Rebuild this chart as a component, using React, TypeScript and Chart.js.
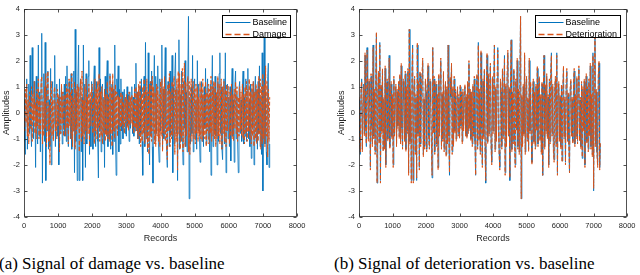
import React, { useEffect, useRef } from "react";
import { Chart, registerables } from "chart.js";

Chart.register(...registerables);

// ---- data ----
const RECORD_STEP = 20; // spacing of the sampled records
const xTickValues = [0, 1000, 2000, 3000, 4000, 5000, 6000, 7000, 8000];
const yTickValues = [-4, -3, -2, -1, 0, 1, 2, 3, 4];

const baseline = [
  0.5, -1.1, -1.6, 0.9, 1.3, -1.4, 0.4, 1.1, -0.8, 2.2, -0.6, -1.3, 2.5, 0.7, -1.0, 1.2, 0.3, -2.1, 1.4, -0.5,
  -1.2, 2.6, -0.9, 0.8, -1.5, 1.3, 3.05, -2.7, 0.6, 1.5, -1.1, 2.7, -2.6, 1.0, -0.7, 1.6, -1.4, 0.5, -1.3, 1.7,
  -2.0, 0.9, 1.2, -1.0, -0.4, 2.2, -1.3, 0.7, 1.1, -0.9, 0.6, -2.0, 1.3, -0.8, 0.4, 1.0, -1.2, 0.8, -0.5, 1.1,
  -0.9, 1.4, -1.1, 1.8, -0.6, -1.3, 1.2, 0.5, -1.0, 1.5, -1.4, 0.9, -0.7, 1.6, -2.3, 3.2, -1.1, 0.8, -2.6, 1.4,
  2.6, -2.6, 0.9, 1.3, -1.5, 0.6, -2.6, 2.6, -0.8, 1.1, -2.1, 1.5, -1.2, 0.7, 1.4, 2.0, -1.6, 0.5, -1.3, 1.2,
  0.8, -1.4, 1.1, 1.8, -0.9, -1.3, 1.2, 0.4, -1.1, -2.5, 2.5, -0.7, 1.3, -1.5, 0.9, 1.1, -1.2, 0.6, -2.1, 1.4,
  -0.8, 1.2, 2.0, -1.3, 0.7, -1.0, 1.5, -1.4, 0.5, 1.1, -1.6, 0.9, -1.1, 2.6, -0.9, -2.4, 1.3, 0.6, 1.8, -1.5,
  0.9, -1.2, 1.3, -0.7, 0.8, -1.0, 0.5, 0.9, -0.8, 0.6, -0.9, 1.0, -0.5, 0.7, -1.1, 0.8, -0.6, 0.4, 1.0, -0.8,
  0.6, -0.9, 1.1, -0.7, 1.9, -0.5, 0.8, -1.0, 0.7, -1.2, 1.0, -0.8, 1.3, -1.1, -2.4, 0.9, 1.4, -1.3, 2.7, -1.0,
  0.8, -1.5, 2.3, -0.6, -2.0, 1.2, -0.9, 1.6, -1.3, -2.7, 0.7, 2.2, -1.1, 1.4, -0.8, 1.0, 1.8, -1.2, -1.9, 1.3,
  -0.7, 1.1, 2.6, -1.4, 0.9, -1.0, 1.3, 2.5, -0.6, -1.5, -2.1, 1.2, 0.8, -1.3, 1.6, -0.9, 0.5, 2.2, -2.3, 1.0,
  -1.2, 1.5, 2.3, -0.8, 0.9, -2.6, 1.1, 2.8, -1.4, 0.7, -1.1, 1.6, -0.9, -2.0, 1.2, -0.6, 2.0, -1.3, 0.8, -1.5,
  1.4, 3.7, -3.3, 0.6, -1.2, 1.0, -0.8, 2.2, -1.5, 0.9, 1.3, -1.0, 0.5, -1.4, 2.0, -0.7, 1.1, -0.9, -1.9, 0.8,
  1.2, -1.1, 0.7, -1.3, 1.0, -0.6, 1.7, -1.2, 0.9, 1.3, -1.0, 0.6, -1.5, 1.1, -2.4, 0.8, 2.2, -1.3, 1.0, -0.7,
  1.4, -0.9, 0.6, -2.0, 1.2, -1.1, 1.5, 2.3, -0.8, 1.0, -1.4, -1.8, 0.9, 1.3, -1.2, 2.3, -2.3, 0.7, 1.1, -1.0,
  0.6, -1.3, 1.0, -1.85, 0.8, 1.7, -0.9, 0.5, -1.9, 1.1, 1.6, -1.0, 0.7, -1.2, -2.3, 0.9, 1.2, -0.8, 0.5, -1.1,
  1.0, 1.6, -1.2, 0.6, -0.9, 1.3, -1.1, 0.8, 1.7, -1.0, 0.5, -1.3, 1.1, -1.75, 0.9, -0.6, 1.2, -2.0, 0.7, 1.4,
  -1.1, 0.9, -1.4, 1.2, -0.8, 1.8, -1.3, 0.6, -1.6, 2.3, -3.0, 1.1, 3.0, -1.2, 0.8, -1.5, -2.0, 1.4, 1.9, -2.1,
  -1.2,
];

const damage = [
  0.3, -0.7, 0.9, -0.4, 1.1, -0.9, 0.5, -1.2, 0.8, 0.2, -0.6, 1.0, -1.1, 0.7, -0.3, 1.2, -0.8, 0.4, -1.0, 0.9,
  -0.5, 1.3, -1.0, 0.6, -0.8, 1.1, 1.4, -1.2, 0.4, -0.9, 1.0, -0.6, 1.5, -1.3, 0.7, 1.6, -1.1, 0.3, -2.0, 0.8,
  1.2, -0.9, 0.5, -1.1, 0.8, 1.0, -0.7, 0.4, -1.0, 0.9, -0.5, 0.7, -1.5, 0.6, -0.8, 1.1, -0.4, 0.8, -0.9, 0.5,
  0.7, -0.9, 1.1, -0.6, 0.9, -1.2, 1.3, -0.5, 0.8, -1.0, 1.5, -1.3, 0.6, -0.7, 1.2, -1.4, 0.9, -0.8, 1.1, -0.6,
  1.0, -1.5, 0.7, 1.3, -1.1, 1.6, -0.9, 0.5, -1.2, 1.0, -0.7, 1.3, -1.0, 0.6, -0.8, 1.1, -1.3, 0.8, -0.5, 0.9,
  1.1, -0.8, 0.6, -1.2, 1.3, -0.7, 0.9, -1.0, 1.2, -0.6, 1.5, -1.1, 0.8, -0.9, 1.0, -1.2, 0.5, -0.8, 0.9, -1.1,
  0.7, -0.9, 1.2, -1.0, 0.6, -1.1, 1.4, -0.8, 1.0, -1.3, 1.5, -0.7, 0.9, -1.0, 1.1, -0.6, 0.8, -0.9, 0.7, -0.5,
  0.6, -0.7, 0.8, -0.5, 0.7, -0.6, 0.4, -0.8, 0.6, -0.4, 0.7, -0.6, 0.5, -0.7, 0.8, -0.5, 0.6, -0.4, 0.7, -0.6,
  0.5, -0.8, 0.9, -0.6, 1.0, -0.7, 0.8, -1.0, 1.1, -0.9, 1.2, -1.3, 0.7, -1.1, 1.0, -0.8, 1.3, -1.2, 0.9, -1.0,
  1.3, -1.4, 0.8, -1.6, 1.1, -0.9, 1.2, -1.1, 1.4, -0.7, 1.0, -1.2, 0.8, -1.3, 1.1, -0.9, 1.0, -1.1, 0.7, -1.3,
  1.2, -0.9, 1.3, -1.5, 1.0, -0.8, 1.4, -1.1, 0.9, -1.2, -1.8, 1.1, -0.7, 1.5, -1.3, 0.8, -1.0, 1.2, -0.9, 1.0,
  1.4, -1.6, 0.9, -1.1, 1.3, -2.2, 1.6, -0.8, 1.5, -1.4, 1.1, -1.0, 1.7, -1.5, 0.9, 1.9, -1.3, 1.2, -0.9, 1.0,
  1.4, -1.5, 1.2, -1.6, 0.8, 1.3, -1.1, 0.7, 1.2, -1.0, 0.9, -1.2, 1.1, -0.8, 1.0, -1.1, 0.6, -0.9, 1.2, -1.0,
  1.0, -1.1, 1.3, -0.9, 0.7, -1.0, 1.2, -1.3, 0.8, -0.7, 1.1, -1.2, 0.9, -0.8, 1.4, -1.1, 1.0, -0.9, 1.2, -1.0,
  1.2, -1.3, 0.8, -1.0, 1.4, -0.9, 1.1, -1.2, 0.7, 1.3, -1.4, 1.0, -0.8, 1.2, -1.1, 0.9, -1.3, 1.1, -0.7, 1.0,
  1.0, -1.2, 0.8, -0.9, 1.1, -1.0, 0.7, -1.1, 0.9, -0.6, 1.2, -0.8, 1.0, -1.1, 0.6, -0.9, 1.0, -0.7, 0.8, -0.9,
  1.1, -1.0, 0.7, -1.2, 1.0, -0.8, 1.2, -1.1, 0.9, -0.7, 1.3, -1.0, 0.8, -1.2, 1.1, -0.9, 1.2, -1.3, 0.8, -1.0,
  1.1, -1.2, 0.9, -1.1, 1.4, -0.8, 1.3, -1.4, 1.0, -1.2, 1.5, -1.0, 1.1, -1.3, 1.8, -0.9, 1.2, -1.7, 0.9, -1.1,
  0.6,
];

const deterioration = [
  0.6, -1.2, -1.5, 1.0, 1.2, -1.5, 0.5, 1.0, -0.9, 2.3, -0.7, -1.2, 2.4, 0.8, -1.1, 1.3, 0.2, -2.2, 1.5, -0.6,
  -1.3, 2.5, -1.0, 0.9, -1.6, 1.4, 3.1, -2.7, 0.7, 1.6, -1.2, 2.6, -2.7, 1.1, -0.8, 1.7, -1.5, 0.6, -1.4, 1.8,
  -2.1, 1.0, 1.3, -1.1, -0.5, 2.1, -1.4, 0.8, 1.2, -1.0, 0.7, -2.1, 1.4, -0.9, 0.5, 1.1, -1.3, 0.9, -0.6, 1.2,
  -1.0, 1.5, -1.2, 1.9, -0.7, -1.4, 1.3, 0.6, -1.1, 1.6, -1.5, 1.0, -0.8, 1.7, -2.4, 3.2, -1.2, 0.9, -2.7, 1.5,
  2.5, -2.7, 1.0, 1.4, -1.6, 0.7, -2.5, 2.7, -0.9, 1.2, -2.2, 1.6, -1.3, 0.8, 1.5, 2.1, -1.7, 0.6, -1.4, 1.3,
  0.9, -1.5, 1.2, 1.9, -1.0, -1.4, 1.3, 0.5, -1.2, -2.4, 2.5, -0.8, 1.4, -1.6, 1.0, 1.2, -1.3, 0.7, -2.2, 1.5,
  -0.9, 1.3, 2.1, -1.4, 0.8, -1.1, 1.6, -1.5, 0.6, 1.2, -1.7, 1.0, -1.2, 2.6, -1.0, -2.3, 1.4, 0.7, 1.9, -1.6,
  1.0, -1.3, 1.4, -0.8, 0.9, -1.1, 0.6, 1.0, -0.9, 0.7, -1.0, 1.1, -0.6, 0.8, -1.2, 0.9, -0.7, 0.5, 1.1, -0.9,
  0.7, -1.0, 1.2, -0.8, 2.0, -0.6, 0.9, -1.1, 0.8, -1.3, 1.1, -0.9, 1.4, -1.2, -2.4, 1.0, 1.5, -1.4, 2.6, -1.1,
  0.9, -1.6, 2.4, -0.7, -2.1, 1.3, -1.0, 1.7, -1.4, -2.6, 0.8, 2.3, -1.2, 1.5, -0.9, 1.1, 1.9, -1.3, -2.0, 1.4,
  -0.8, 1.2, 2.6, -1.5, 1.0, -1.1, 1.4, 2.4, -0.7, -1.6, -2.2, 1.3, 0.9, -1.4, 1.7, -1.0, 0.6, 2.1, -2.4, 1.1,
  -1.3, 1.6, 2.4, -0.9, 1.0, -2.5, 1.2, 2.8, -1.5, 0.8, -1.2, 1.7, -1.0, -2.1, 1.3, -0.7, 2.1, -1.4, 0.9, -1.6,
  1.5, 3.7, -3.3, 0.7, -1.3, 1.1, -0.9, 2.3, -1.6, 1.0, 1.4, -1.1, 0.6, -1.5, 2.1, -0.8, 1.2, -1.0, -2.0, 0.9,
  1.3, -1.2, 0.8, -1.4, 1.1, -0.7, 1.8, -1.3, 1.0, 1.4, -1.1, 0.7, -1.6, 1.2, -2.4, 0.9, 2.2, -1.4, 1.1, -0.8,
  1.5, -1.0, 0.7, -2.1, 1.3, -1.2, 1.6, 2.2, -0.9, 1.1, -1.5, -1.9, 1.0, 1.4, -1.3, 2.2, -2.4, 0.8, 1.2, -1.1,
  0.7, -1.4, 1.1, -1.9, 0.9, 1.8, -1.0, 0.6, -2.0, 1.2, 1.7, -1.1, 0.8, -1.3, -2.3, 1.0, 1.3, -0.9, 0.6, -1.2,
  1.1, 1.7, -1.3, 0.7, -1.0, 1.4, -1.2, 0.9, 1.8, -1.1, 0.6, -1.4, 1.2, -1.7, 1.0, -0.7, 1.3, -2.1, 0.8, 1.5,
  -1.2, 1.0, -1.5, 1.3, -0.9, 1.9, -1.4, 0.7, -1.7, 2.2, -2.9, 1.2, 2.9, -1.3, 0.9, -1.6, -2.1, 1.5, 2.0, -2.2,
  -1.1,
];

const records = baseline.map((_, i) => i * RECORD_STEP);

const BLUE = "#0072BD";
const ORANGE = "#D95319";
const AXIS = "#262626";
const SANS = "'Liberation Sans', Arial, sans-serif";

type Series = { label: string; values: number[]; color: string; dash: number[]; width: number };

const framePlugin = {
  id: "matlabFrame",
  afterDatasetsDraw(chart: any) {
    const { ctx, chartArea, scales } = chart;
    const { left, right, top, bottom } = chartArea;
    const L = Math.round(left) + 0.5;
    const R = Math.round(right) - 0.5;
    const T = Math.round(top) + 0.5;
    const B = Math.round(bottom) - 0.5;
    ctx.save();
    ctx.strokeStyle = AXIS;
    ctx.globalAlpha = 0.8;
    ctx.lineWidth = 1;
    ctx.strokeRect(L, T, R - L, B - T);
    ctx.beginPath();
    const tl = 3;
    xTickValues.forEach((v) => {
      const px = Math.round(scales.x.getPixelForValue(v)) + 0.5;
      ctx.moveTo(px, B);
      ctx.lineTo(px, B - tl);
      ctx.moveTo(px, T);
      ctx.lineTo(px, T + tl);
    });
    yTickValues.forEach((v) => {
      const py = Math.round(scales.y.getPixelForValue(v)) + 0.5;
      ctx.moveTo(L, py);
      ctx.lineTo(L + tl, py);
      ctx.moveTo(R, py);
      ctx.lineTo(R - tl, py);
    });
    ctx.stroke();
    ctx.restore();
  },
};

const legendPlugin = {
  id: "matlabLegend",
  afterDraw(chart: any) {
    const { ctx, chartArea } = chart;
    const sets = chart.data.datasets;
    ctx.save();
    ctx.font = `9px ${SANS}`;
    const textW = Math.max(...sets.map((d: any) => ctx.measureText(d.label).width));
    const lineLen = 25;
    const w = 3.5 + lineLen + 2 + textW + 3.5;
    const h = 23;
    const x1 = Math.round(chartArea.right - 6.5);
    const x0 = Math.round(x1 - w);
    const y0 = Math.round(chartArea.top + 6);
    ctx.fillStyle = "#fff";
    ctx.fillRect(x0, y0, x1 - x0, h);
    ctx.strokeStyle = "#000";
    ctx.lineWidth = 1;
    ctx.strokeRect(x0 + 0.5, y0 + 0.5, x1 - x0 - 1, h - 1);
    sets.forEach((d: any, i: number) => {
      const cy = y0 + 7 + i * 12;
      ctx.beginPath();
      ctx.strokeStyle = d.borderColor;
      ctx.lineWidth = i === 0 ? 1 : 1.5;
      ctx.setLineDash(i === 0 ? [] : [6, 3]);
      ctx.moveTo(x0 + 3.5, cy + 0.5);
      ctx.lineTo(x0 + 3.5 + lineLen, cy + 0.5);
      ctx.stroke();
      ctx.setLineDash([]);
      ctx.fillStyle = "#000";
      ctx.textBaseline = "middle";
      ctx.textAlign = "left";
      ctx.fillText(d.label, x0 + 3.5 + lineLen + 2, cy + 0.5);
    });
    ctx.restore();
  },
};

function Panel(props: {
  left: number;
  width: number;
  padRight: number;
  series: Series[];
}) {
  const ref = useRef<HTMLCanvasElement>(null);
  useEffect(() => {
    const tickFont = { family: SANS, size: 7.5 };
    const titleFont = { family: SANS, size: 9 };
    const chart = new Chart(ref.current as HTMLCanvasElement, {
      type: "line",
      data: {
        datasets: props.series.map((s, i) => ({
          label: s.label,
          data: records.map((r, k) => ({ x: r, y: s.values[k] })),
          borderColor: s.color,
          backgroundColor: s.color,
          borderWidth: s.width,
          borderDash: s.dash,
          pointRadius: 0,
          tension: 0,
          fill: false,
          order: props.series.length - i,
        })),
      },
      options: {
        animation: false,
        responsive: false,
        events: [],
        layout: { padding: { left: 0, right: props.padRight, top: 3, bottom: 6 } },
        plugins: { legend: { display: false }, tooltip: { enabled: false } },
        scales: {
          x: {
            type: "linear",
            min: 0,
            max: 8000,
            afterBuildTicks: (s: any) => {
              s.ticks = xTickValues.map((v) => ({ value: v }));
            },
            afterFit: (s: any) => {
              s.height = 27;
            },
            ticks: {
              callback: (v: any) => String(v),
              font: tickFont,
              color: AXIS,
              padding: 4.5,
              maxRotation: 0,
              autoSkip: false,
            },
            grid: { display: false, drawTicks: false },
            border: { display: false },
            title: {
              display: true,
              text: "Records",
              font: titleFont,
              color: AXIS,
              padding: { top: 0, bottom: 0 },
            },
          },
          y: {
            type: "linear",
            min: -4,
            max: 4,
            afterBuildTicks: (s: any) => {
              s.ticks = yTickValues.map((v) => ({ value: v }));
            },
            afterFit: (s: any) => {
              s.width = 24;
            },
            ticks: {
              callback: (v: any) => String(v),
              font: tickFont,
              color: AXIS,
              padding: 4,
              autoSkip: false,
            },
            grid: { display: false, drawTicks: false },
            border: { display: false },
            title: {
              display: true,
              text: "Amplitudes",
              font: titleFont,
              color: AXIS,
              padding: { top: 1.5, bottom: 0 },
            },
          },
        },
      },
      plugins: [framePlugin, legendPlugin],
    });
    return () => chart.destroy();
  }, []);
  return (
    <canvas
      ref={ref}
      width={props.width}
      height={250}
      style={{ position: "absolute", left: props.left, top: 0, width: props.width, height: 250 }}
    />
  );
}

const captionStyle: React.CSSProperties = {
  position: "absolute",
  top: 254,
  fontFamily: "'Liberation Serif', 'Times New Roman', serif",
  fontSize: 17,
  lineHeight: "19px",
  color: "#000",
  whiteSpace: "nowrap",
};

export default function App() {
  return (
    <div style={{ position: "absolute", left: 0, top: 0, width: 640, height: 275, overflow: "hidden", background: "#fff" }}>
      <Panel
        left={0}
        width={320}
        padRight={23}
        series={[
          { label: "Baseline", values: baseline, color: BLUE, dash: [], width: 0.8 },
          { label: "Damage", values: damage, color: ORANGE, dash: [4, 2], width: 1 },
        ]}
      />
      <Panel
        left={335}
        width={305}
        padRight={8}
        series={[
          { label: "Baseline", values: baseline, color: BLUE, dash: [], width: 0.8 },
          { label: "Deterioration", values: deterioration, color: ORANGE, dash: [4, 2], width: 1 },
        ]}
      />
      <div style={{ ...captionStyle, left: -1 }}>(a) Signal of damage vs. baseline</div>
      <div style={{ ...captionStyle, left: 334 }}>(b) Signal of deterioration vs. baseline</div>
    </div>
  );
}
